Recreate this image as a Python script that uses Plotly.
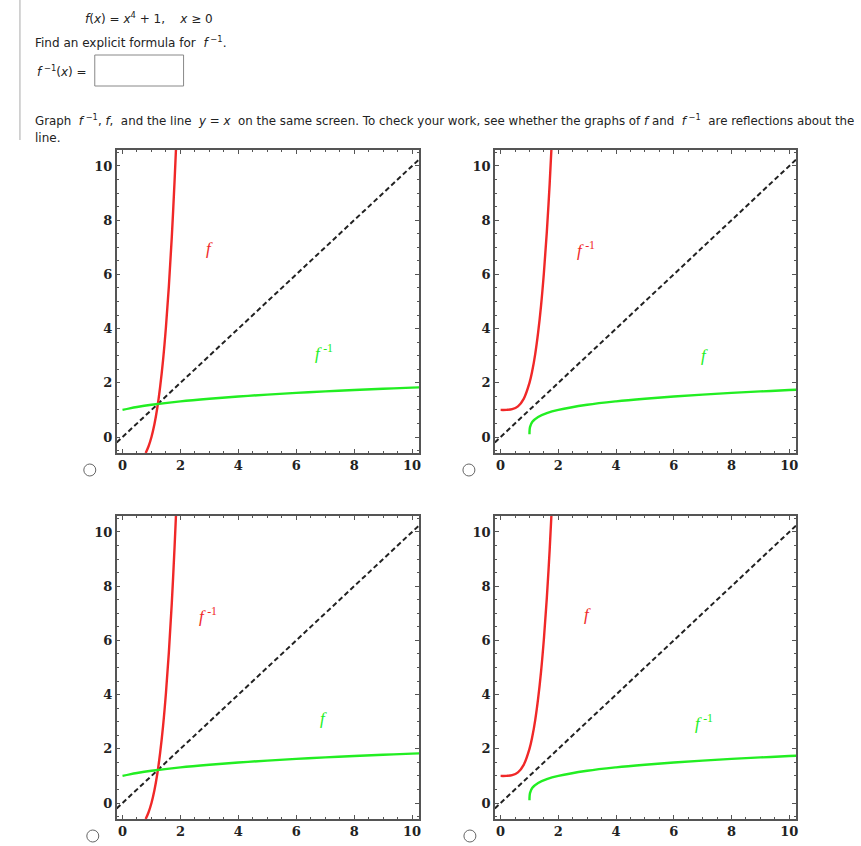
import plotly.graph_objects as go

# ---- data (sampled from the reference curves) ----
tick_vals = [0, 2, 4, 6, 8, 10]
tick_text = ["0", "2", "4", "6", "8", "10"]

# panels A/C : red steep curve and green flat curve
red_a_x = [0.80, 0.90, 1.00, 1.10, 1.20, 1.30, 1.40, 1.50, 1.60, 1.70, 1.80, 1.85]
red_a_y = [-0.59, -0.34, 0.00, 0.46, 1.07, 1.86, 2.84, 4.06, 5.55, 7.35, 9.50, 10.71]
green_a_x = [0.0, 0.25, 0.5, 1, 2, 3, 4, 5, 6, 7, 8, 9, 10, 10.24]
green_a_y = [1.00, 1.057, 1.107, 1.189, 1.316, 1.414, 1.495, 1.565, 1.627, 1.682, 1.732, 1.778, 1.821, 1.831]

# panels B/D
red_b_x = [0.0, 0.2, 0.4, 0.6, 0.8, 1.0, 1.1, 1.2, 1.3, 1.4, 1.5, 1.6, 1.7, 1.78]
red_b_y = [1.00, 1.002, 1.026, 1.130, 1.410, 2.00, 2.46, 3.07, 3.86, 4.84, 6.06, 7.55, 9.35, 11.04]
green_b_x = [1.0001, 1.003, 1.02, 1.1, 1.3, 1.6, 2, 3, 4, 5, 6, 7, 8, 9, 10, 10.24]
green_b_y = [0.10, 0.234, 0.376, 0.562, 0.740, 0.880, 1.00, 1.189, 1.316, 1.414, 1.495, 1.565, 1.627, 1.682, 1.732, 1.744]

diag_x = [-0.2, 10.3]
diag_y = [-0.2, 10.3]

F = "<i>f</i>"
FINV = "<i>f</i>\u2009<sup>-1</sup>"
panel_labels = [(F, FINV), (FINV, F), (FINV, F), (F, FINV)]
upper_pos = [(3.0, 6.95), (2.95, 6.95), (2.95, 6.95), (3.0, 6.95)]
lower_pos = [(6.95, 3.15), (7.05, 3.0), (6.95, 3.1), (7.05, 3.0)]

W, H = 861, 846
RED = "#f02828"
GREEN = "#22ee22"

boxes = [(117, 150, 420, 453), (496, 150, 798, 453),
         (117, 516, 420, 819), (496, 516, 798, 819)]
curves = [(red_a_x, red_a_y, green_a_x, green_a_y),
          (red_b_x, red_b_y, green_b_x, green_b_y),
          (red_a_x, red_a_y, green_a_x, green_a_y),
          (red_b_x, red_b_y, green_b_x, green_b_y)]

fig = go.Figure()
layout = {}
annotations = []
shapes = []

tickfont = dict(family="DejaVu Serif", size=13, color="#222", weight="bold")

for i, (box, cv) in enumerate(zip(boxes, curves)):
    n = "" if i == 0 else str(i + 1)
    xa, ya = "x" + n, "y" + n
    l, t, r, b = box
    rx, ry, gx, gy = cv
    fig.add_trace(go.Scatter(x=diag_x, y=diag_y, mode="lines", xaxis=xa, yaxis=ya,
                             line=dict(color="#222", width=2, dash="5px,3px"), showlegend=False))
    fig.add_trace(go.Scatter(x=rx, y=ry, mode="lines", xaxis=xa, yaxis=ya,
                             line=dict(color=RED, width=2.4, shape="spline"), showlegend=False))
    fig.add_trace(go.Scatter(x=gx, y=gy, mode="lines", xaxis=xa, yaxis=ya,
                             line=dict(color=GREEN, width=2.4, shape="spline"), showlegend=False))
    common = dict(showgrid=False, zeroline=False, showline=True, linecolor="#555", linewidth=1.5,
                  mirror="allticks", ticks="inside", ticklen=4, tickwidth=1, tickcolor="#555",
                  tickvals=tick_vals, ticktext=tick_text, tickfont=tickfont,
                  minor=dict(dtick=0.5, ticks="inside", ticklen=2.5, tickcolor="#555", showgrid=False),
                  fixedrange=True)
    layout["xaxis" + n] = dict(common, domain=[l / W, r / W], range=[-0.2, 10.24], anchor=ya)
    layout["yaxis" + n] = dict(common, domain=[1 - b / H, 1 - t / H], range=[-0.59, 10.59], anchor=xa)
    up, lo = panel_labels[i]
    annotations.append(dict(x=upper_pos[i][0], y=upper_pos[i][1], xref=xa, yref=ya, text=up,
                            showarrow=False, font=dict(family="Liberation Serif", size=17, color=RED)))
    annotations.append(dict(x=lower_pos[i][0], y=lower_pos[i][1], xref=xa, yref=ya, text=lo,
                            showarrow=False, font=dict(family="Liberation Serif", size=17, color=GREEN)))

for cx, cy in [(90, 470), (470, 470), (93, 836), (471, 836)]:
    shapes.append(dict(type="circle", xref="paper", yref="paper",
                       x0=(cx - 6) / W, x1=(cx + 6) / W, y0=1 - (cy + 6) / H, y1=1 - (cy - 6) / H,
                       line=dict(color="#666", width=1)))

shapes.append(dict(type="rect", xref="paper", yref="paper",
                   x0=95 / W, x1=184 / W, y0=1 - 86 / H, y1=1 - 55 / H,
                   line=dict(color="#888", width=1)))
shapes.append(dict(type="line", xref="paper", yref="paper",
                   x0=20 / W, x1=20 / W, y0=1 - 140 / H, y1=1.0,
                   line=dict(color="#aaa", width=1)))


def add_text(x, y, s, size=12):
    annotations.append(dict(x=x / W, y=1 - y / H, xref="paper", yref="paper", text=s,
                            showarrow=False, xanchor="left", yanchor="middle",
                            font=dict(family="DejaVu Sans", size=size, color="#222")))


add_text(83, 18, "<i>f</i>(<i>x</i>) = <i>x</i><sup>4</sup> + 1,    <i>x</i> ≥ 0")
add_text(33, 42, "Find an explicit formula for  <i>f</i><sup> −1</sup>.")
add_text(35, 71, "<i>f</i><sup> −1</sup>(<i>x</i>) =")
add_text(33, 120, "Graph  <i>f</i><sup> −1</sup>, <i>f</i>,  and the line  <i>y</i> = <i>x</i>  on the same screen. "
                  "To check your work, see whether the graphs of <i>f</i> and  <i>f</i><sup> −1</sup>  are reflections about the",
         size=11.85)
add_text(33, 138, "line.")

fig.update_layout(width=W, height=H, margin=dict(l=0, r=0, t=0, b=0),
                  paper_bgcolor="white", plot_bgcolor="white",
                  annotations=annotations, shapes=shapes, **layout)

fig.write_html("out.html")
